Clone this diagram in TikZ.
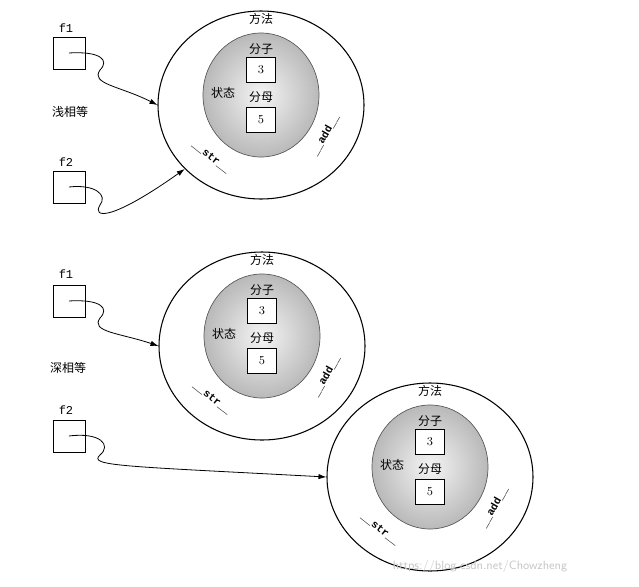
\documentclass[tikz,border=0pt]{standalone}
\usepackage{fontspec}
\setmonofont{Liberation Mono}
\newfontfamily\cjk{Noto Sans CJK SC}
\usetikzlibrary{arrows.meta,shapes.geometric}
\tikzset{
  outer/.style={draw,line width=0.8pt,ellipse,minimum width=154.5pt,minimum height=141pt,inner sep=0},
  ptr/.style={draw,line width=0.6pt,minimum width=24pt,minimum height=24pt,inner sep=0},
  val/.style={draw,line width=0.6pt,fill=white,minimum width=22pt,minimum height=19pt,inner sep=0,font=\small},
  lbl/.style={font=\cjk\small,inner sep=1pt},
  meth/.style={font=\ttfamily\bfseries\footnotesize,inner sep=0pt},
  arr/.style={-{Latex[length=6pt,width=4pt]},line width=0.6pt},
  pics/obj/.style={code={
    \node[outer] (-o) at (0,0) {};
    \fill[gray!80,shading=radial,inner color=gray!8,outer color=gray!55] (0,-10) ellipse [x radius=58,y radius=62];
    \draw[line width=0.5pt,gray!70!black] (0,-10) ellipse [x radius=58,y radius=62];
    \node[lbl] (-t) at (0,-86) {方法};
    \node[lbl] (-n) at (0,-56) {分子};
    \node[val] (-a) at (0,-35) {3};
    \node[lbl] (-d) at (0,-8) {分母};
    \node[val] (-b) at (0,15) {5};
    \node[lbl] (-s) at (-38,-12) {状态};
    \node[meth,rotate=-38] (-str) at (-50,52) {\_\_str\_\_};
    \node[meth,rotate=60] (-add) at (64,30) {\_\_add\_\_};
  }}
}
\begin{document}
\begin{tikzpicture}[x=0.75pt,y=-0.75pt]
\useasboundingbox (0,0) rectangle (639,586);
% top
\pic (A) at (261,105) {obj};
\node[ptr] (p1) at (69,53) {};
\node[font=\ttfamily\small] (l1) at (66,28) {f1};
\node[ptr] (p2) at (69,187) {};
\node[font=\ttfamily\small] (l2) at (66,162) {f2};
\node[lbl] (e1) at (70,112) {浅相等};
\draw[arr] (p1.center) .. controls (100,51) and (110,60) .. (100,70) .. controls (90,84) and (120,86) .. (A-o.west);
\draw[arr] (p2.center) .. controls (95,184) and (108,195) .. (100,205) .. controls (92,218) and (110,222) .. (A-o.220);
% middle
\pic (B) at (262,346) {obj};
\node[ptr] (p3) at (69,301) {};
\node[font=\ttfamily\small] (l3) at (66,274) {f1};
\node[ptr] (p4) at (69,436) {};
\node[font=\ttfamily\small] (l4) at (66,410) {f2};
\node[lbl] (e2) at (68,368) {深相等};
\draw[arr] (p3.center) .. controls (100,299) and (110,308) .. (100,318) .. controls (90,332) and (120,333) .. (B-o.west);
% bottom
\pic (C) at (430,477) {obj};
\draw[arr] (p4.center) .. controls (100,432) and (112,445) .. (100,455) .. controls (88,466) and (120,466) .. (C-o.west);
\node[text=gray!45,font=\sffamily\small] (wm) at (480,566) {https://blog.csdn.net/Chowzheng};
\end{tikzpicture}
\end{document}
